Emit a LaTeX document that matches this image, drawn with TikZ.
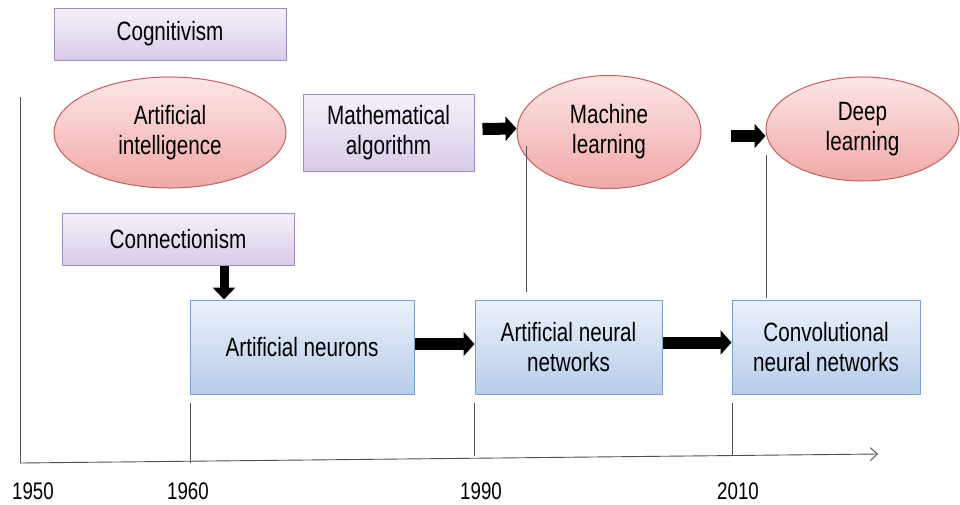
\documentclass[tikz,border=0pt]{standalone}
\usepackage{fontspec}
\setmainfont{Liberation Sans}[FakeStretch=0.78]
\usetikzlibrary{shapes.geometric,arrows.meta,calc}
\definecolor{purptop}{HTML}{F5F1FA}
\definecolor{purpbot}{HTML}{D9CBE7}
\definecolor{purpline}{HTML}{A28CC2}
\definecolor{redtop}{HTML}{FCE6E6}
\definecolor{redbot}{HTML}{F0A8A7}
\definecolor{redline}{HTML}{C4605D}
\definecolor{bluetop}{HTML}{EAF1FB}
\definecolor{bluebot}{HTML}{B8CCE9}
\definecolor{blueline}{HTML}{7C9FD4}
\definecolor{axisgray}{HTML}{505050}
\tikzset{
  lbl/.style={font=\fontsize{26.5}{30}\selectfont, align=center, text=black, inner sep=0pt},
  purpbox/.style={lbl, draw=purpline, line width=1pt, top color=purptop, bottom color=purpbot, rectangle},
  redell/.style={lbl, draw=redline, line width=1pt, top color=redtop, bottom color=redbot, ellipse},
  bluebox/.style={lbl, draw=blueline, line width=1pt, top color=bluetop, bottom color=bluebot, rectangle},
  barrow/.style={line width=12pt, -{Triangle[length=11pt,width=24pt]}},
  thinline/.style={draw=axisgray, line width=0.9pt},
  year/.style={font=\fontsize{24}{28}\selectfont, anchor=base, inner sep=0pt, text=black}
}
\begin{document}
\begin{tikzpicture}[x=1pt,y=-1pt]
\useasboundingbox (0,0) rectangle (960,504);
\fill[white] (0,0) rectangle (960,504);

% axes
\coordinate (ytop) at (20,97);
\coordinate (org) at (20,463);
\coordinate (xend) at (878,454);
\draw[thinline] (ytop) -- (org);
\draw[thinline, -{Straight Barb[length=7pt,width=13pt]}] (org) -- (xend);

% nodes
\node[purpbox, minimum width=232pt, minimum height=52pt] (cog) at (170,34) {Cognitivism};
\node[redell, minimum width=232pt, minimum height=111pt] (ai) at (170,132.5) {Artificial\\intelligence};
\node[purpbox, minimum width=171pt, minimum height=77pt] (math) at (388.5,132.5) {Mathematical\\algorithm};
\node[redell, minimum width=184pt, minimum height=113pt] (ml) at (609,132) {Machine\\learning};
\node[redell, minimum width=193pt, minimum height=104pt] (dl) at (862.5,129) {Deep\\learning};
\node[purpbox, minimum width=232pt, minimum height=52pt] (conn) at (178,239) {Connectionism};
\node[bluebox, minimum width=224pt, minimum height=94pt] (an) at (302,347) {Artificial neurons};
\node[bluebox, minimum width=187pt, minimum height=94pt] (ann) at (568.5,347) {Artificial neural\\networks};
\node[bluebox, minimum width=188pt, minimum height=94pt] (cnn) at (826,347) {Convolutional\\neural networks};

% thin vertical links
\coordinate (mltop) at (526,146);
\coordinate (mlbot) at (526,292);
\coordinate (dltop) at (766,155);
\coordinate (dlbot) at (766,298);
\draw[thinline] (mltop) -- (mlbot);
\draw[thinline] (dltop) -- (dlbot);

% ticks
\coordinate (t60a) at (190,403);
\coordinate (t60b) at (190,463);
\coordinate (t90a) at (474,403);
\coordinate (t90b) at (474,456);
\coordinate (t10a) at (732,403);
\coordinate (t10b) at (732,455);
\draw[thinline] (t60a) -- (t60b);
\draw[thinline] (t90a) -- (t90b);
\draw[thinline] (t10a) -- (t10b);

% block arrows
\draw[barrow] ([shift={(8,-3.5)}]math.east) -- ([shift={(0,-3.5)}]ml.west);
\draw[barrow] ([shift={(29,4)}]ml.east) -- ([shift={(0,7)}]dl.west);
\draw[barrow, line width=9pt, -{Triangle[length=12pt,width=22pt]}] ([xshift=46]conn.south) -- ([xshift=-78]an.north);
\draw[barrow] ([shift={(0,-3)}]an.east) -- ([shift={(0,-3)}]ann.west);
\draw[barrow] ([shift={(0,-4.5)}]ann.east) -- ([shift={(0,-4.5)}]cnn.west);

% years
\node[year] (y1950) at (33,499) {1950};
\node[year] (y1960) at (188,499) {1960};
\node[year] (y1990) at (481,499) {1990};
\node[year] (y2010) at (738,499) {2010};
\end{tikzpicture}
\end{document}
